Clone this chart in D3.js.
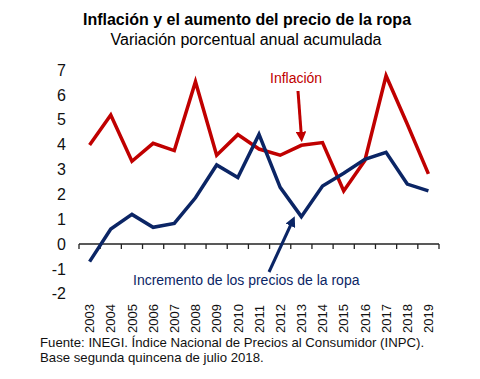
<!DOCTYPE html>
<html><head><meta charset="utf-8">
<script src="https://cdn.jsdelivr.net/npm/d3@7"></script>
<style>body{margin:0;background:#fff}svg{display:block}text{font-family:"Liberation Sans",Arial,sans-serif}</style>
</head><body><svg id="c" width="480" height="379"></svg>
<script>
const years = ["2003","2004","2005","2006","2007","2008","2009","2010","2011","2012","2013","2014","2015","2016","2017","2018","2019"];
const inflacion = [3.98,5.19,3.33,4.05,3.76,6.53,3.57,4.40,3.82,3.57,3.97,4.08,2.13,3.36,6.77,4.83,2.82];
const ropa = [-0.71,0.60,1.19,0.67,0.83,1.86,3.18,2.67,4.41,2.28,1.10,2.33,2.85,3.41,3.69,2.41,2.14];
const yTicks = [-2,-1,0,1,2,3,4,5,6,7];

const svg = d3.select("#c");
const x = d3.scaleBand().domain(years).range([79,439]);
const y = d3.scaleLinear().domain([-2,7]).range([293.7,70]);
const cx = d => x(d) + x.bandwidth()/2;

svg.append("text").attr("x",247).attr("y",25).attr("text-anchor","middle")
  .attr("font-size",16).attr("font-weight","bold").text("Inflación y el aumento del precio de la ropa");
svg.append("text").attr("x",246).attr("y",45).attr("text-anchor","middle")
  .attr("font-size",16).text("Variación porcentual anual acumulada");

// y labels
svg.selectAll(".yl").data(yTicks).join("text").attr("class","yl")
  .attr("x",66).attr("y",d=>y(d)).attr("dy","0.36em").attr("text-anchor","end")
  .attr("font-size",16).attr("fill","#111").text(d=>d);

// x axis line at zero
const xa = svg.append("g").attr("transform",`translate(0,${y(0)})`);
xa.append("line").attr("x1",79).attr("x2",439).attr("stroke","#222").attr("stroke-width",1.3);
const bounds = years.map(d=>x(d)).concat([x(years[years.length-1])+x.bandwidth()]);
xa.selectAll(".tk").data(bounds).join("line").attr("x1",d=>d).attr("x2",d=>d)
  .attr("y1",0).attr("y2",5).attr("stroke","#222").attr("stroke-width",1.3);

// year labels
svg.selectAll(".xl").data(years).join("text").attr("class","xl")
  .attr("transform",d=>`translate(${cx(d)},333) rotate(-90)`)
  .attr("dy","0.36em").attr("font-size",13).attr("fill","#111").text(d=>d);

const line = vals => d3.line().x((v,i)=>cx(years[i])).y(v=>y(v))(vals);
svg.append("path").attr("d",line(inflacion)).attr("fill","none").attr("stroke","#C00000")
  .attr("stroke-width",3.5).attr("stroke-linejoin","miter");
svg.append("path").attr("d",line(ropa)).attr("fill","none").attr("stroke","#0B2565")
  .attr("stroke-width",3.5).attr("stroke-linejoin","miter");

// markers
const defs = svg.append("defs");
[["ar","#C00000"],["ab","#0B2565"]].forEach(([id,c])=>{
  defs.append("marker").attr("id",id).attr("viewBox","0 0 10 10").attr("refX",6).attr("refY",5)
    .attr("markerWidth",3.5).attr("markerHeight",3.5).attr("orient","auto")
    .append("path").attr("d","M0,0L10,5L0,10z").attr("fill",c);
});
svg.append("text").attr("x",270).attr("y",83).attr("font-size",14).attr("fill","#C00000").text("Inflación");
svg.append("line").attr("x1",298).attr("y1",91).attr("x2",301.5).attr("y2",138)
  .attr("stroke","#C00000").attr("stroke-width",3).attr("marker-end","url(#ar)");
svg.append("text").attr("x",133).attr("y",285).attr("font-size",14).attr("fill","#0B2565").text("Incremento de los precios de la ropa");
svg.append("line").attr("x1",269).attr("y1",272).attr("x2",293).attr("y2",220)
  .attr("stroke","#0B2565").attr("stroke-width",3).attr("marker-end","url(#ab)");

svg.append("text").attr("x",40).attr("y",347).attr("font-size",13.2).attr("fill","#111")
  .text("Fuente: INEGI. Índice Nacional de Precios al Consumidor (INPC).");
svg.append("text").attr("x",40).attr("y",362).attr("font-size",13.2).attr("fill","#111")
  .text("Base segunda quincena de julio 2018.");
</script></body></html>
